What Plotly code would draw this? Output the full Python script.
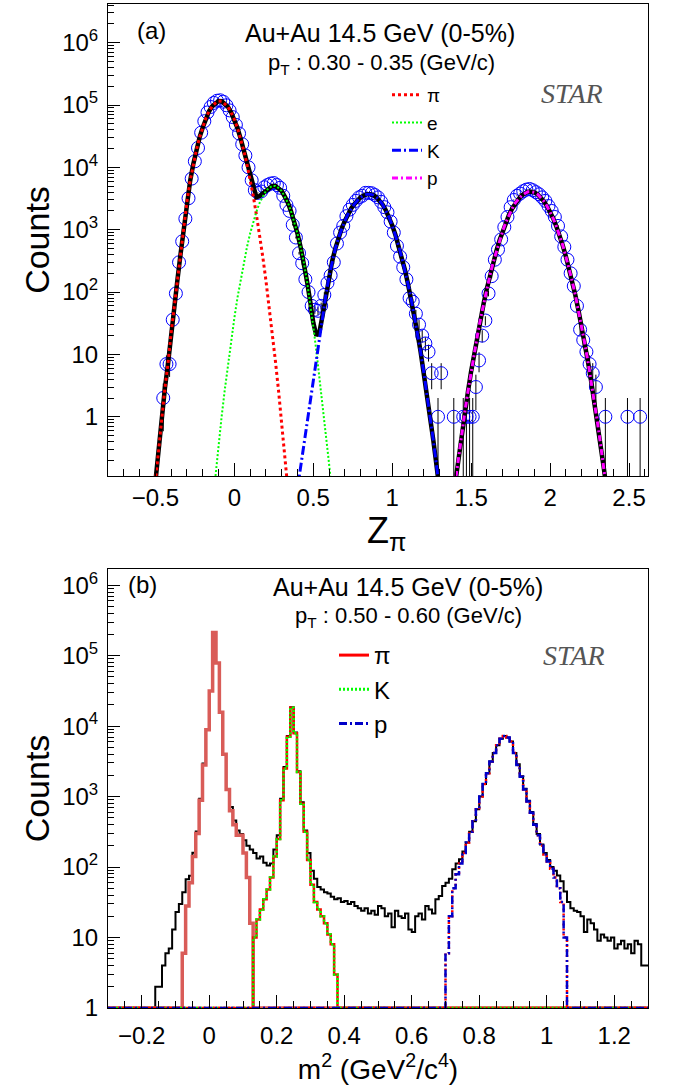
import numpy as np
import plotly.graph_objects as go

# ================= Panel (a): Z_pi distribution =================
# measured histogram (bin centres, counts)
zpi_x = [-0.45, -0.43, -0.41, -0.39, -0.37, -0.35, -0.33, -0.31, -0.29, -0.27,
         -0.25, -0.23, -0.21, -0.19, -0.17, -0.15, -0.13, -0.11, -0.09, -0.07,
         -0.05, -0.03, -0.01, 0.01, 0.03, 0.05, 0.07, 0.09, 0.11, 0.13,
         0.15, 0.17, 0.19, 0.21, 0.23, 0.25, 0.27, 0.29, 0.31, 0.33,
         0.35, 0.37, 0.39, 0.41, 0.43, 0.45, 0.47, 0.49, 0.51, 0.53,
         0.55, 0.57, 0.59, 0.61, 0.63, 0.65, 0.67, 0.69, 0.71, 0.73,
         0.75, 0.77, 0.79, 0.81, 0.83, 0.85, 0.87, 0.89, 0.91, 0.93,
         0.95, 0.97, 0.99, 1.01, 1.03, 1.05, 1.07, 1.09, 1.11, 1.13,
         1.15, 1.17, 1.19, 1.21, 1.23, 1.25, 1.29, 1.31, 1.39, 1.45,
         1.47, 1.49, 1.51, 1.53, 1.55, 1.57, 1.59, 1.61, 1.63, 1.65,
         1.67, 1.69, 1.71, 1.73, 1.75, 1.77, 1.79, 1.81, 1.83, 1.85,
         1.87, 1.89, 1.91, 1.93, 1.95, 1.97, 1.99, 2.01, 2.03, 2.05,
         2.07, 2.09, 2.11, 2.13, 2.15, 2.17, 2.19, 2.21, 2.23, 2.25,
         2.27, 2.29, 2.35, 2.49, 2.57]
zpi_counts = [2, 7, 7, 36, 95, 300, 650, 1500, 3200, 6600,
              12500, 20500, 36000, 55000, 76000, 93000, 108000, 117000, 119000, 113000,
              99000, 82000, 64000, 48000, 35000, 23500, 15500, 10000, 6200, 4300,
              3900, 4100, 4800, 5200, 5500, 5600, 5200, 4700, 3500, 2500,
              2000, 1200, 750, 420, 290, 160, 100, 60, 52, 50,
              60, 90, 140, 185, 300, 600, 900, 1150, 1650, 2100,
              2500, 2900, 3300, 3500, 3900, 3900, 3850, 3600, 3300, 2800,
              2300, 1900, 1350, 900, 550, 370, 250, 160, 80, 70,
              45, 30, 20, 15, 11, 5, 1, 5, 1, 1,
              1, 1, 1, 3, 8, 20, 35, 95, 180, 330,
              480, 700, 1100, 1600, 2300, 3000, 3500, 3800, 4150, 4400,
              4500, 4300, 4000, 3700, 3300, 2900, 2400, 2000, 1600, 1150,
              780, 530, 330, 200, 125, 60, 25, 17, 11, 7,
              5, 3, 1, 1, 1]

# fit curves: log10(counts), sampled every 0.02 starting at the given Z_pi
fit_step = 0.02
pi_fit_start = -0.50
pi_fit_log = [-1.05, -0.50, -0.05, 0.45, 0.85, 1.35, 1.78, 2.20, 2.62, 3.05,
              3.45, 3.78, 4.05, 4.28, 4.48, 4.64, 4.79, 4.90, 4.98, 5.03,
              5.065, 5.06, 5.02, 4.97, 4.88, 4.77, 4.63, 4.46, 4.27, 4.05,
              3.81, 3.54, 3.24, 2.92, 2.57, 2.19, 1.79, 1.36, 0.90, 0.42,
              -0.09, -0.62, -1.18]
e_fit_start = -0.14
e_fit_log = [-1.46, -0.95, -0.46, 0.01, 0.44, 0.85, 1.23, 1.58, 1.91, 2.20,
             2.48, 2.72, 2.94, 3.13, 3.29, 3.43, 3.53, 3.62, 3.67, 3.70,
             3.70, 3.67, 3.62, 3.53, 3.43, 3.29, 3.13, 2.94, 2.72, 2.48,
             2.18, 1.85, 1.45, 1.05, 0.62, 0.18, -0.27, -0.75, -1.25]
k_fit_start = 0.40
k_fit_log = [-1.15, -0.80, -0.45, -0.10, 0.25, 0.60, 0.95, 1.28, 1.62, 1.95,
             2.25, 2.50, 2.70, 2.87, 3.02, 3.14, 3.25, 3.34, 3.41, 3.47,
             3.52, 3.55, 3.57, 3.57, 3.555, 3.52, 3.47, 3.40, 3.31, 3.20,
             3.07, 2.92, 2.75, 2.56, 2.36, 2.13, 1.89, 1.62, 1.34, 1.04,
             0.71, 0.37, 0.01, -0.37, -0.77, -1.18]
p_fit_start = 1.38
p_fit_log = [-1.41, -1.02, -0.63, -0.27, 0.08, 0.41, 0.73, 1.03, 1.31, 1.58,
             1.83, 2.06, 2.28, 2.48, 2.66, 2.83, 2.98, 3.12, 3.24, 3.34,
             3.43, 3.49, 3.55, 3.58, 3.61, 3.61, 3.60, 3.57, 3.52, 3.46,
             3.38, 3.29, 3.18, 3.05, 2.91, 2.75, 2.57, 2.38, 2.17, 1.95,
             1.70, 1.45, 1.17, 0.88, 0.57, 0.25, -0.09, -0.45, -0.82, -1.21]
tot_fit_start = -0.50
tot_fit_log = [-1.05, -0.50, -0.05, 0.45, 0.85, 1.35, 1.78, 2.20, 2.62, 3.05,
               3.45, 3.78, 4.05, 4.28, 4.48, 4.64, 4.79, 4.90, 4.98, 5.03,
               5.065, 5.06, 5.02, 4.97, 4.88, 4.77, 4.63, 4.46, 4.28, 4.07,
               3.87, 3.68, 3.52, 3.54, 3.58, 3.64, 3.68, 3.70, 3.70, 3.67,
               3.62, 3.53, 3.43, 3.29, 3.13, 2.94, 2.72, 2.48, 2.18, 1.86,
               1.51, 1.30, 1.37, 1.64, 1.95, 2.25, 2.50, 2.70, 2.87, 3.02,
               3.14, 3.25, 3.34, 3.41, 3.47, 3.52, 3.55, 3.57, 3.57, 3.555,
               3.52, 3.47, 3.40, 3.31, 3.20, 3.07, 2.92, 2.75, 2.56, 2.36,
               2.13, 1.89, 1.62, 1.34, 1.04, 0.71, 0.37, 0.01, -0.37, -0.77,
               -1.18]

# ================= Panel (b): m^2 distribution =================
m2_lo = -0.30
m2_w = 0.01
m2_counts = [0, 0, 0, 0, 0, 0, 0, 0, 0, 0,
             0, 0, 0, 1, 2, 2, 4, 6, 7, 13,
             23, 30, 44, 67, 75, 160, 320, 930, 2950, 9100,
             31600, 214000, 79000, 15800, 4000, 1260, 710, 457, 331, 295,
             240, 200, 178, 158, 132, 141, 115, 105, 112, 178,
             282, 933, 2630, 7240, 18600, 8130, 2290, 832, 331, 158,
             89, 68, 52, 48, 44, 42, 38, 35, 36, 32,
             33, 30, 32, 28, 26, 24, 26, 22, 24, 21,
             28, 26, 20, 22, 14, 24, 20, 19, 22, 13,
             12, 20, 22, 18, 28, 25, 22, 35, 39, 54,
             60, 68, 93, 112, 129, 166, 224, 316, 447, 661,
             1000, 1510, 2140, 3160, 4170, 5370, 6610, 7240, 6920, 6030,
             4170, 2880, 1950, 1290, 871, 603, 407, 295, 209, 158,
             126, 100, 89, 76, 63, 45, 32, 26, 24, 23,
             20, 12, 18, 16, 13, 9, 11, 10, 9, 10,
             7, 8, 9, 7, 8, 6, 9, 8, 4, 4]
pi_m2_start = -0.08
pi_m2_counts = [6, 28, 60, 141, 300, 890, 2820, 8900, 31600, 214000,
                79000, 15800, 4000, 1260, 630, 400, 282, 282, 158, 71, 16]
k_m2_start = 0.13
k_m2_counts = [10, 18, 25, 35, 48, 71, 141, 251, 891, 2510,
               7080, 18200, 7940, 2240, 794, 316, 126, 56, 32, 25,
               20, 16, 11, 8, 3]
p_m2_start = 0.70
p_m2_counts = [6, 20, 50, 79, 112, 158, 224, 316, 447, 661,
               1000, 1510, 2140, 3160, 4170, 5370, 6610, 7240, 6920, 6030,
               4170, 2820, 1910, 1260, 851, 589, 398, 282, 200, 151,
               120, 95, 71, 50, 32, 10]

# ---------------- helpers ----------------
def grid(start, n, step):
    return np.round(start + step * np.arange(n), 4)


def curve(start, logs):
    return grid(start, len(logs), fit_step), 10.0 ** np.array(logs)


n_m2 = len(m2_counts)


def full_hist(start, counts):
    arr = np.zeros(n_m2)
    i0 = int(round((start - m2_lo) / m2_w))
    arr[i0:i0 + len(counts)] = counts
    return arr


def step_xy(arr):
    # histogram outline; empty bins drawn on the frame floor (as ROOT does)
    edges = grid(m2_lo, n_m2 + 1, m2_w)
    y = np.where(arr > 0, arr, 1.0)
    return edges, np.append(y, y[-1])


fig = go.Figure()

# ---------- panel (a) traces ----------
cnt = np.array(zpi_counts, dtype=float)
fig.add_trace(go.Scatter(
    x=zpi_x, y=cnt, mode="markers", showlegend=False,
    marker=dict(symbol="circle-open", size=13, color="#0000ff", line=dict(width=1)),
    error_y=dict(type="data", array=np.sqrt(cnt), color="black", thickness=1, width=0),
    xaxis="x", yaxis="y"))

tx, ty = curve(tot_fit_start, tot_fit_log)
px_, py_ = curve(p_fit_start, p_fit_log)
fig.add_trace(go.Scatter(
    x=list(tx) + [None] + list(px_), y=list(ty) + [None] + list(py_),
    mode="lines", line=dict(color="black", width=4.5), showlegend=False,
    xaxis="x", yaxis="y"))

comp_a = [
    ("π", pi_fit_start, pi_fit_log, "#ff0000", "3px,3px", 3),
    ("e", e_fit_start, e_fit_log, "#00ff00", "2px,2px", 2),
    ("K", k_fit_start, k_fit_log, "#0000ff", "9px,3px,2px,3px", 3),
    ("p", p_fit_start, p_fit_log, "#ff00ff", "6px,3px,2px,3px", 3),
]
for name, st, lg, col, dash, wd in comp_a:
    cx, cy = curve(st, lg)
    fig.add_trace(go.Scatter(
        x=cx, y=cy, mode="lines", name=name, legend="legend",
        line=dict(color=col, dash=dash, width=wd), xaxis="x", yaxis="y"))

# ---------- panel (b) traces ----------
ex, ey = step_xy(np.array(m2_counts, dtype=float))
fig.add_trace(go.Scatter(x=ex, y=ey, mode="lines", line_shape="hv", showlegend=False,
                         line=dict(color="black", width=2), xaxis="x2", yaxis="y2"))

ex, ey = step_xy(full_hist(pi_m2_start, pi_m2_counts))
fig.add_trace(go.Scatter(x=ex, y=ey, mode="lines", line_shape="hv", showlegend=False,
                         line=dict(color="#d95c58", width=3.5), xaxis="x2", yaxis="y2"))

ex, ey = step_xy(full_hist(k_m2_start, k_m2_counts))
fig.add_trace(go.Scatter(x=ex, y=ey, mode="lines", line_shape="hv", showlegend=False,
                         line=dict(color="#ff0000", width=2.5), xaxis="x2", yaxis="y2"))
fig.add_trace(go.Scatter(x=ex, y=ey, mode="lines", line_shape="hv", showlegend=False,
                         line=dict(color="#00ff00", width=2.5, dash="2px,2px"),
                         xaxis="x2", yaxis="y2"))

ex, ey = step_xy(full_hist(p_m2_start, p_m2_counts))
fig.add_trace(go.Scatter(x=ex, y=ey, mode="lines", line_shape="hv", showlegend=False,
                         line=dict(color="#ff0000", width=2.5, dash="2px,3px"),
                         xaxis="x2", yaxis="y2"))
fig.add_trace(go.Scatter(x=ex, y=ey, mode="lines", line_shape="hv", showlegend=False,
                         line=dict(color="#0000c8", width=2.5, dash="8px,3px,2px,3px"),
                         xaxis="x2", yaxis="y2"))

for name, col, dash in [("π", "#ff0000", "solid"), ("K", "#00ff00", "2px,2px"),
                        ("p", "#0000c8", "8px,3px,2px,3px")]:
    fig.add_trace(go.Scatter(x=[None], y=[None], mode="lines", name=name, legend="legend2",
                             line=dict(color=col, dash=dash, width=3),
                             xaxis="x2", yaxis="y2"))

# ---------- axes ----------
W, H = 674, 1085
L, R, T, B = 108, 26, 4, 77
ph = H - T - B


def py2paper(py):
    return (H - B - py) / ph


def px2paper(px):
    return (px - L) / (W - L - R)


FONT = "Liberation Sans, Arial, sans-serif"
SERIF = "Liberation Serif, Times New Roman, serif"
dec_vals = [1, 10, 100, 1e3, 1e4, 1e5, 1e6]
dec_text = ["1", "10", "10<sup>2</sup>", "10<sup>3</sup>", "10<sup>4</sup>",
            "10<sup>5</sup>", "10<sup>6</sup>"]
minor_vals = [k * 10.0 ** d for d in range(-1, 7) for k in range(2, 10)]

common_x = dict(showline=True, mirror=True, linecolor="black", linewidth=1,
                showgrid=False, zeroline=False, ticks="inside", tickcolor="black",
                ticklen=13, tickwidth=1, tickfont=dict(size=24, color="black", family=FONT))
common_y = dict(type="log", showline=True, mirror=True, linecolor="black", linewidth=1,
                showgrid=False, zeroline=False, ticks="inside", tickcolor="black",
                ticklen=12, tickwidth=1, tickmode="array", tickvals=dec_vals, ticktext=dec_text,
                tickfont=dict(size=24, color="black", family=FONT), ticklabelstandoff=4,
                minor=dict(tickmode="array", tickvals=minor_vals, ticks="inside",
                           ticklen=6, tickcolor="black", tickwidth=1))

top_lo = py2paper(476)
bot_hi = py2paper(569)

fig.update_layout(
    width=W, height=H, margin=dict(l=L, r=R, t=T, b=B),
    paper_bgcolor="white", plot_bgcolor="white",
    font=dict(family=FONT, color="black"),
    xaxis=dict(domain=[0, 1], anchor="y", range=[-0.8, 2.62], tick0=0, dtick=0.5,
               minor=dict(tick0=0, dtick=0.1, ticks="inside", ticklen=7,
                          tickcolor="black", tickwidth=1),
               **common_x),
    yaxis=dict(domain=[top_lo, 1], anchor="x", range=[-0.95, 6.62],
               title=dict(text="Counts", font=dict(size=34, family=FONT), standoff=2),
               **common_y),
    xaxis2=dict(domain=[0, 1], anchor="y2", range=[-0.3, 1.3], tick0=0, dtick=0.2,
                minor=dict(tick0=0, dtick=0.05, ticks="inside", ticklen=7,
                           tickcolor="black", tickwidth=1),
                ticklabelstandoff=6,
                title=dict(text="m<sup>2</sup> (GeV<sup>2</sup>/c<sup>4</sup>)",
                           font=dict(size=28, family=FONT), standoff=6),
                **common_x),
    yaxis2=dict(domain=[0, bot_hi], anchor="x2", range=[0, 6.23],
                title=dict(text="Counts", font=dict(size=34, family=FONT), standoff=2),
                **common_y),
    legend=dict(x=px2paper(387), y=py2paper(76), xanchor="left", yanchor="top",
                bgcolor="rgba(0,0,0,0)", font=dict(size=19, family=FONT),
                itemwidth=30, tracegroupgap=0),
    legend2=dict(x=px2paper(334), y=py2paper(633), xanchor="left", yanchor="top",
                 bgcolor="rgba(0,0,0,0)", font=dict(size=24, family=FONT),
                 itemwidth=30, tracegroupgap=0),
)

ann = [
    ("(a)", 151, 31, 24, FONT, "black", False),
    ("Au+Au 14.5 GeV (0-5%)", 380, 33, 25, FONT, "black", False),
    ("p<sub>T</sub> : 0.30 - 0.35 (GeV/c)", 381, 64, 22, FONT, "black", False),
    ("STAR", 572, 93, 28, SERIF, "#555555", True),
    ("Z<sub>π</sub>", 386, 533, 36, FONT, "black", False),
    ("(b)", 142, 585, 24, FONT, "black", False),
    ("Au+Au 14.5 GeV (0-5%)", 408, 587, 25, FONT, "black", False),
    ("p<sub>T</sub> : 0.50 - 0.60 (GeV/c)", 408, 617, 22, FONT, "black", False),
    ("STAR", 574, 655, 28, SERIF, "#555555", True),
]
for text, x, y, size, fam, col, ital in ann:
    fig.add_annotation(text=f"<i>{text}</i>" if ital else text,
                       x=px2paper(x), y=py2paper(y), xref="paper", yref="paper",
                       xanchor="center", yanchor="middle", showarrow=False,
                       font=dict(size=size, family=fam, color=col))

fig.write_html("out.html", config={"displayModeBar": False},
               post_script="document.body.style.margin='0px';")
